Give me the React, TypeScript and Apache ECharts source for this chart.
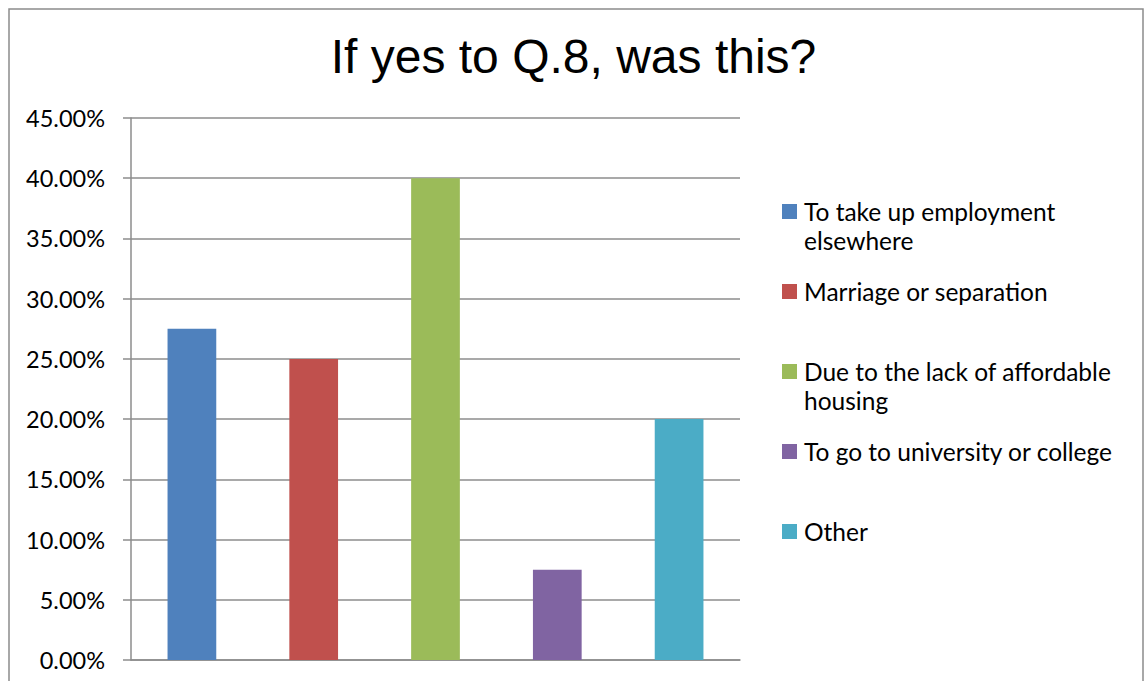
import React, { useEffect, useRef } from "react";
import * as echarts from "echarts";

const titleText = "If yes to Q.8, was this?";
const categories = [
  "To take up employment elsewhere",
  "Marriage or separation",
  "Due to the lack of affordable housing",
  "To go to university or college",
  "Other",
];
const values = [0.275, 0.25, 0.4, 0.075, 0.2];
const colors = ["#4F81BD", "#C0504D", "#9BBB59", "#8064A2", "#4BACC6"];
const yTicks = [0, 0.05, 0.1, 0.15, 0.2, 0.25, 0.3, 0.35, 0.4, 0.45];

const LEGEND_FONT = "Lato, 'Open Sans', sans-serif";

export default function App() {
  const ref = useRef<HTMLDivElement>(null);
  useEffect(() => {
    if (!ref.current) return;
    const chart = echarts.init(ref.current, null, { renderer: "svg" });
    const legendGraphics: any[] = [];
    categories.forEach((name, i) => {
      const cy = 212 + 80 * i;
      legendGraphics.push({
        type: "rect",
        shape: { x: 782, y: cy - 8, width: 15, height: 15 },
        style: { fill: colors[i] },
      });
      legendGraphics.push({
        type: "text",
        x: 804,
        y: cy - 15,
        style: {
          text: name,
          width: 335,
          overflow: "break",
          fontFamily: LEGEND_FONT,
          fontSize: 24.5,
          lineHeight: 29,
          fill: "#000",
          verticalAlign: "top",
          align: "left",
        },
      });
    });
    chart.setOption({
      animation: false,
      backgroundColor: "#fff",
      title: {
        text: titleText,
        left: "center",
        top: 27,
        textStyle: {
          fontFamily: "'Liberation Sans', Arial, sans-serif",
          fontSize: 48,
          fontWeight: "normal",
          color: "#000",
        },
      },
      grid: { left: 131, right: 407, top: 118, bottom: 21, containLabel: false },
      xAxis: {
        type: "category",
        data: categories,
        axisLabel: { show: false },
        axisTick: { show: false },
        axisLine: { show: true, lineStyle: { color: "#8c8c8c", width: 1.5 } },
      },
      yAxis: {
        type: "value",
        min: 0,
        max: yTicks[yTicks.length - 1],
        interval: 0.05,
        axisLine: { show: true, lineStyle: { color: "#8c8c8c", width: 1.5 } },
        axisTick: { show: true, length: 8, lineStyle: { color: "#8c8c8c", width: 1.5 } },
        splitLine: { show: true, lineStyle: { color: "#8c8c8c", width: 1.5 } },
        axisLabel: {
          margin: 26,
          fontFamily: LEGEND_FONT,
          fontSize: 23.5,
          color: "#000",
          formatter: (v: number) => (v * 100).toFixed(2) + "%",
        },
      },
      series: [
        {
          type: "bar",
          barWidth: "40%",
          data: values.map((v, i) => ({ value: v, itemStyle: { color: colors[i] } })),
        },
      ],
      graphic: [
        {
          type: "rect",
          shape: { x: 9, y: 9, width: 1134, height: 700 },
          style: { fill: "none", stroke: "#8c8c8c", lineWidth: 1.5 },
          silent: true,
        },
        ...legendGraphics,
      ],
    });
    return () => chart.dispose();
  }, []);
  return (
    <div
      ref={ref}
      style={{ position: "absolute", left: 0, top: 0, width: 1147, height: 681 }}
    />
  );
}
